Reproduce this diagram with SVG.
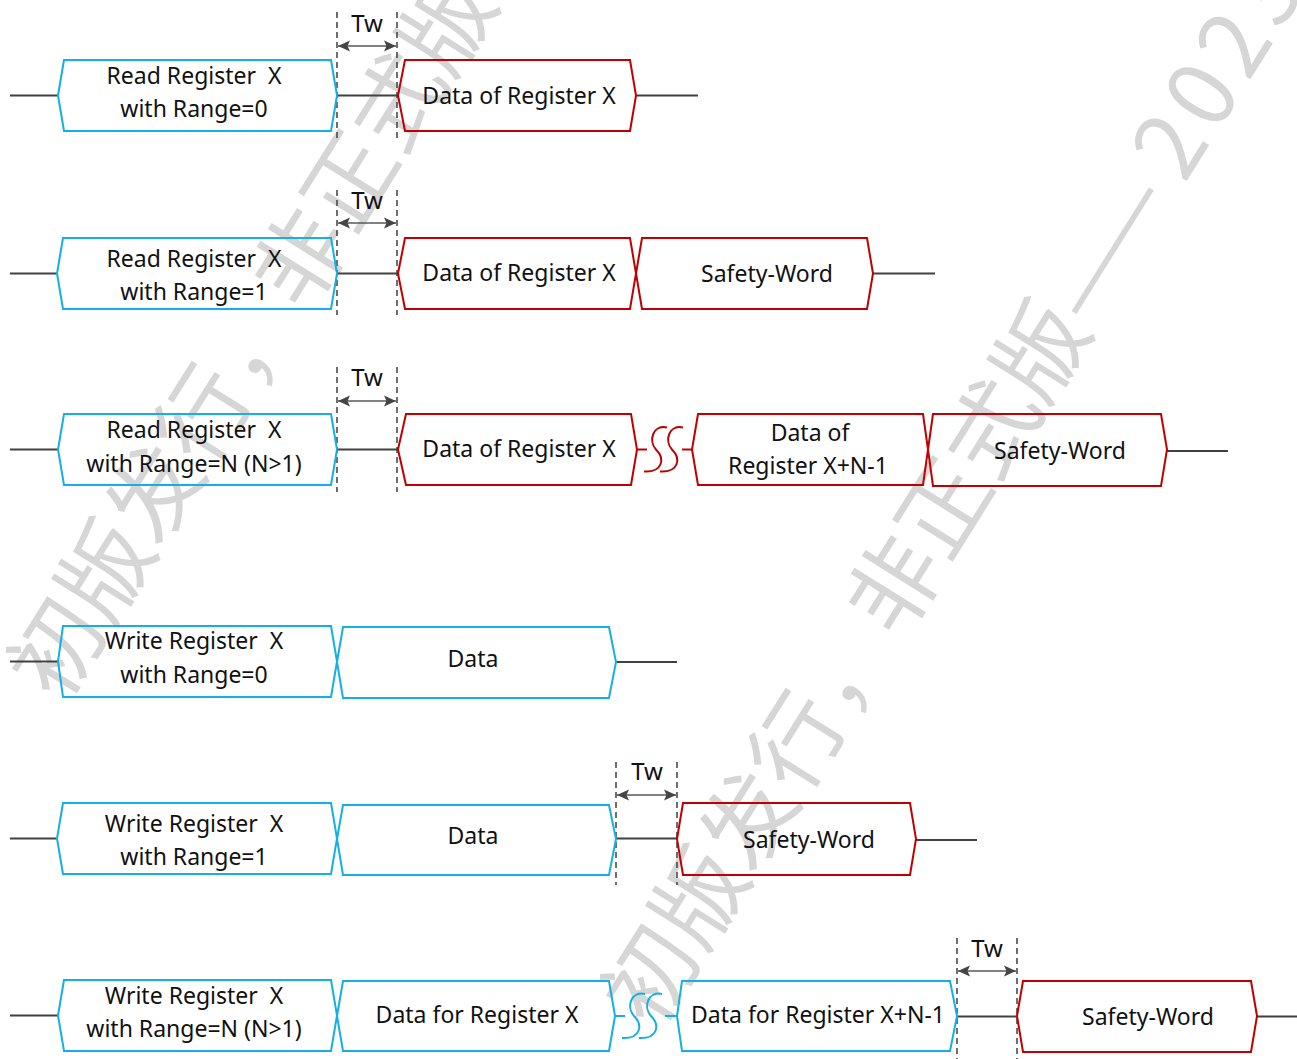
<svg xmlns="http://www.w3.org/2000/svg" width="1297" height="1059" viewBox="0 0 1297 1059">
<style>
.wm{font-family:"Noto Sans CJK SC","Noto Sans",sans-serif;font-size:92px;fill:#d6d6d6}
.b{fill:none;stroke:#16aee8;stroke-width:2}
.r{fill:none;stroke:#c00000;stroke-width:2}
.t{font-family:"Noto Sans","Open Sans",sans-serif;font-size:23px;fill:#111;text-anchor:middle;white-space:pre}
.tw{font-family:"Noto Sans","Open Sans",sans-serif;font-size:24px;fill:#111;text-anchor:middle}
.ln{stroke:#404040;stroke-width:1.8;fill:none}
.dash{stroke:#404040;stroke-width:1.5;stroke-dasharray:6 4;fill:none}
.arr{stroke:#595959;stroke-width:1.5;fill:none;marker-start:url(#ah);marker-end:url(#ah)}
.sb{fill:none;stroke:#16aee8;stroke-width:2}
.sr{fill:none;stroke:#c00000;stroke-width:2}
</style>
<defs>
<marker id="ah" viewBox="0 0 12 12" refX="12" refY="6" markerWidth="12" markerHeight="12" markerUnits="userSpaceOnUse" orient="auto-start-reverse">
<path d="M0,0.5 L12,6 L0,11.5 L2.5,6 z" fill="#454545"/>
</marker>
<path id="ss" d="M19,-22 C5,-25 0,-9 8,0 C17,9 15,23 -4,22"/>
</defs>
<rect width="1297" height="1059" fill="#fff"/>
<g id="watermark">
<text class="wm" x="61" y="705" transform="rotate(-58 61 705)">初版发行，非正式版</text>
<text class="wm" x="655" y="1032" transform="rotate(-58 655 1032)">初版发行，非正式版<tspan letter-spacing="17">——</tspan><tspan letter-spacing="9">2023</tspan></text>
</g>
<g id="connectors">
<line class="ln" x1="10" y1="95.5" x2="58" y2="95.5"/>
<line class="ln" x1="337" y1="95.5" x2="398" y2="95.5"/>
<line class="ln" x1="636" y1="95.5" x2="698" y2="95.5"/>
<line class="dash" x1="337" y1="12" x2="337" y2="138"/>
<line class="dash" x1="397" y1="12" x2="397" y2="138"/>
<line class="arr" x1="338" y1="46" x2="396" y2="46"/>
<text class="tw" x="367" y="32">Tw</text>

<line class="ln" x1="10" y1="273.5" x2="57" y2="273.5"/>
<line class="ln" x1="337" y1="273.5" x2="398" y2="273.5"/>
<line class="ln" x1="873" y1="273.5" x2="935" y2="273.5"/>
<line class="dash" x1="337" y1="190" x2="337" y2="315"/>
<line class="dash" x1="397" y1="190" x2="397" y2="315"/>
<line class="arr" x1="338" y1="223" x2="396" y2="223"/>
<text class="tw" x="367" y="209">Tw</text>

<line class="ln" x1="10" y1="449.5" x2="58" y2="449.5"/>
<line class="ln" x1="337" y1="449.5" x2="398" y2="449.5"/>
<line class="sr" x1="637" y1="449.5" x2="647" y2="449.5"/>
<line class="sr" x1="682" y1="449.5" x2="692" y2="449.5"/>
<use href="#ss" class="sr" x="648" y="449.5"/>
<use href="#ss" class="sr" x="664" y="449.5"/>
<line class="ln" x1="1167" y1="451" x2="1228" y2="451"/>
<line class="dash" x1="337" y1="367" x2="337" y2="492"/>
<line class="dash" x1="397" y1="367" x2="397" y2="492"/>
<line class="arr" x1="338" y1="401" x2="396" y2="401"/>
<text class="tw" x="367" y="386">Tw</text>

<line class="ln" x1="10" y1="661.5" x2="58" y2="661.5"/>
<line class="ln" x1="616" y1="662" x2="677" y2="662"/>

<line class="ln" x1="10" y1="838.5" x2="57" y2="838.5"/>
<line class="ln" x1="616" y1="838.5" x2="677" y2="838.5"/>
<line class="ln" x1="916" y1="840" x2="977" y2="840"/>
<line class="dash" x1="616" y1="762" x2="616" y2="885"/>
<line class="dash" x1="677" y1="762" x2="677" y2="885"/>
<line class="arr" x1="617" y1="795" x2="676" y2="795"/>
<text class="tw" x="647" y="780">Tw</text>

<line class="ln" x1="10" y1="1015.5" x2="58" y2="1015.5"/>
<line class="sb" x1="615" y1="1016" x2="625" y2="1016"/>
<line class="sb" x1="665" y1="1016" x2="677" y2="1016"/>
<use href="#ss" class="sb" x="626" y="1016"/>
<use href="#ss" class="sb" x="643" y="1016"/>
<line class="ln" x1="957" y1="1016.5" x2="1017" y2="1016.5"/>
<line class="ln" x1="1257" y1="1016.5" x2="1297" y2="1016.5"/>
<line class="dash" x1="957" y1="938" x2="957" y2="1059"/>
<line class="dash" x1="1017" y1="938" x2="1017" y2="1059"/>
<line class="arr" x1="958" y1="971" x2="1016" y2="971"/>
<text class="tw" x="987" y="957">Tw</text>
</g>

<g id="n1a"><polygon class="b" points="58,95.5 64,60 331,60 337,95.5 331,131 64,131"/><text class="t" x="194" y="84">Read Register  X</text><text class="t" x="194" y="117">with Range=0</text></g>
<g id="n1b"><polygon class="r" points="398,95.5 405,60 630,60 636,95.5 630,131 405,131"/><text class="t" x="519" y="104">Data of Register X</text></g>

<g id="n2a"><polygon class="b" points="57,273.5 63,238 331,238 337,273.5 331,309 63,309"/><text class="t" x="194" y="267">Read Register  X</text><text class="t" x="194" y="300">with Range=1</text></g>
<g id="n2b"><polygon class="r" points="398,273.5 405,238 630,238 636,273.5 630,309 405,309"/><text class="t" x="519" y="281">Data of Register X</text></g>
<g id="n2c"><polygon class="r" points="636,273.5 642,238 867,238 873,273.5 867,309 642,309"/><text class="t" x="767" y="282">Safety-Word</text></g>

<g id="n3a"><polygon class="b" points="58,449.5 64,414 331,414 337,449.5 331,485 64,485"/><text class="t" x="194" y="438">Read Register  X</text><text class="t" x="194" y="472">with Range=N (N&gt;1)</text></g>
<g id="n3b"><polygon class="r" points="398,449.5 406,414 631,414 637,449.5 631,485 406,485"/><text class="t" x="519" y="457">Data of Register X</text></g>
<g id="n3c"><polygon class="r" points="692,449.5 698,414 923,414 928,449.5 923,485 698,485"/><text class="t" x="810" y="441">Data of</text><text class="t" x="808" y="474">Register X+N-1</text></g>
<g id="n3d"><polygon class="r" points="928,449.5 933,414 1161,414 1167,449.5 1161,486 933,486"/><text class="t" x="1060" y="459">Safety-Word</text></g>

<g id="n4a"><polygon class="b" points="58,661.5 63,626 331,626 337,661.5 331,697 63,697"/><text class="t" x="194" y="649">Write Register  X</text><text class="t" x="194" y="683">with Range=0</text></g>
<g id="n4b"><polygon class="b" points="337,662 343,627 609,627 616,662 609,698 343,698"/><text class="t" x="473" y="667">Data</text></g>

<g id="n5a"><polygon class="b" points="57,838.5 63,803 331,803 337,838.5 331,874 63,874"/><text class="t" x="194" y="832">Write Register  X</text><text class="t" x="194" y="865">with Range=1</text></g>
<g id="n5b"><polygon class="b" points="337,839 343,805 609,805 616,839 609,875 343,875"/><text class="t" x="473" y="844">Data</text></g>
<g id="n5c"><polygon class="r" points="677,839 683,803 910,803 916,839 910,875 683,875"/><text class="t" x="809" y="848">Safety-Word</text></g>

<g id="n6a"><polygon class="b" points="58,1015.5 64,980 331,980 337,1015.5 331,1051 64,1051"/><text class="t" x="194" y="1004">Write Register  X</text><text class="t" x="194" y="1037">with Range=N (N&gt;1)</text></g>
<g id="n6b"><polygon class="b" points="337,1016 343,981 609,981 615,1016 609,1051 343,1051"/><text class="t" x="477" y="1023">Data for Register X</text></g>
<g id="n6c"><polygon class="b" points="677,1016 682,981 950,981 957,1016 950,1051 682,1051"/><text class="t" x="818" y="1023">Data for Register X+N-1</text></g>
<g id="n6d"><polygon class="r" points="1017,1016 1023,981 1251,981 1257,1016 1251,1052 1023,1052"/><text class="t" x="1148" y="1025">Safety-Word</text></g>
</svg>
